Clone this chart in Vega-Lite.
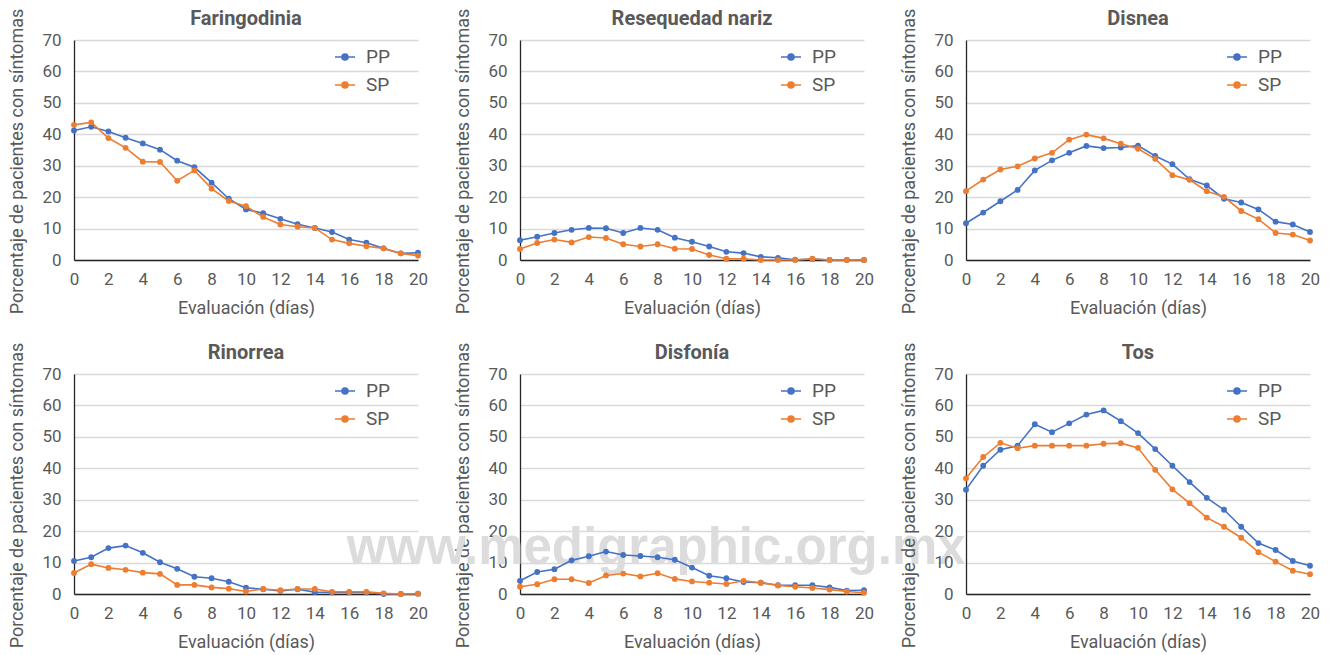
{
  "$schema": "https://vega.github.io/schema/vega-lite/v6.json",
  "background": "white",
  "padding": {"left": 8, "top": 8, "right": 5, "bottom": 3},
  "bounds": "flush",
  "columns": 3,
  "spacing": {"row": 114, "column": 102},
  "data": {
    "values": [
      {"sintoma": "Faringodinia", "dia": 0, "PP": 41.2, "SP": 43.0},
      {"sintoma": "Faringodinia", "dia": 1, "PP": 42.4, "SP": 43.8},
      {"sintoma": "Faringodinia", "dia": 2, "PP": 40.9, "SP": 38.8},
      {"sintoma": "Faringodinia", "dia": 3, "PP": 38.9, "SP": 35.7},
      {"sintoma": "Faringodinia", "dia": 4, "PP": 37.1, "SP": 31.3},
      {"sintoma": "Faringodinia", "dia": 5, "PP": 35.1, "SP": 31.2},
      {"sintoma": "Faringodinia", "dia": 6, "PP": 31.6, "SP": 25.2},
      {"sintoma": "Faringodinia", "dia": 7, "PP": 29.5, "SP": 28.5},
      {"sintoma": "Faringodinia", "dia": 8, "PP": 24.6, "SP": 22.7},
      {"sintoma": "Faringodinia", "dia": 9, "PP": 19.5, "SP": 18.8},
      {"sintoma": "Faringodinia", "dia": 10, "PP": 16.1, "SP": 17.1},
      {"sintoma": "Faringodinia", "dia": 11, "PP": 14.9, "SP": 13.7},
      {"sintoma": "Faringodinia", "dia": 12, "PP": 13.1, "SP": 11.3},
      {"sintoma": "Faringodinia", "dia": 13, "PP": 11.4, "SP": 10.6},
      {"sintoma": "Faringodinia", "dia": 14, "PP": 10.2, "SP": 10.2},
      {"sintoma": "Faringodinia", "dia": 15, "PP": 8.9, "SP": 6.5},
      {"sintoma": "Faringodinia", "dia": 16, "PP": 6.5, "SP": 5.3},
      {"sintoma": "Faringodinia", "dia": 17, "PP": 5.5, "SP": 4.4},
      {"sintoma": "Faringodinia", "dia": 18, "PP": 3.7, "SP": 3.7},
      {"sintoma": "Faringodinia", "dia": 19, "PP": 2.1, "SP": 2.1},
      {"sintoma": "Faringodinia", "dia": 20, "PP": 2.3, "SP": 1.4},
      {"sintoma": "Resequedad nariz", "dia": 0, "PP": 6.3, "SP": 3.5},
      {"sintoma": "Resequedad nariz", "dia": 1, "PP": 7.4, "SP": 5.4},
      {"sintoma": "Resequedad nariz", "dia": 2, "PP": 8.6, "SP": 6.5},
      {"sintoma": "Resequedad nariz", "dia": 3, "PP": 9.6, "SP": 5.6},
      {"sintoma": "Resequedad nariz", "dia": 4, "PP": 10.2, "SP": 7.3},
      {"sintoma": "Resequedad nariz", "dia": 5, "PP": 10.1, "SP": 7.0},
      {"sintoma": "Resequedad nariz", "dia": 6, "PP": 8.6, "SP": 5.0},
      {"sintoma": "Resequedad nariz", "dia": 7, "PP": 10.2, "SP": 4.3},
      {"sintoma": "Resequedad nariz", "dia": 8, "PP": 9.6, "SP": 5.0},
      {"sintoma": "Resequedad nariz", "dia": 9, "PP": 7.1, "SP": 3.6},
      {"sintoma": "Resequedad nariz", "dia": 10, "PP": 5.8, "SP": 3.5},
      {"sintoma": "Resequedad nariz", "dia": 11, "PP": 4.3, "SP": 1.6},
      {"sintoma": "Resequedad nariz", "dia": 12, "PP": 2.6, "SP": 0.4},
      {"sintoma": "Resequedad nariz", "dia": 13, "PP": 2.2, "SP": 0.4},
      {"sintoma": "Resequedad nariz", "dia": 14, "PP": 1.0, "SP": 0.0},
      {"sintoma": "Resequedad nariz", "dia": 15, "PP": 0.7, "SP": 0.0},
      {"sintoma": "Resequedad nariz", "dia": 16, "PP": 0.1, "SP": 0.0},
      {"sintoma": "Resequedad nariz", "dia": 17, "PP": 0.3, "SP": 0.4},
      {"sintoma": "Resequedad nariz", "dia": 18, "PP": 0.0, "SP": 0.0},
      {"sintoma": "Resequedad nariz", "dia": 19, "PP": 0.0, "SP": 0.0},
      {"sintoma": "Resequedad nariz", "dia": 20, "PP": 0.0, "SP": 0.0},
      {"sintoma": "Disnea", "dia": 0, "PP": 11.7, "SP": 21.9},
      {"sintoma": "Disnea", "dia": 1, "PP": 15.1, "SP": 25.6},
      {"sintoma": "Disnea", "dia": 2, "PP": 18.7, "SP": 28.8},
      {"sintoma": "Disnea", "dia": 3, "PP": 22.3, "SP": 29.8},
      {"sintoma": "Disnea", "dia": 4, "PP": 28.5, "SP": 32.3},
      {"sintoma": "Disnea", "dia": 5, "PP": 31.7, "SP": 34.1},
      {"sintoma": "Disnea", "dia": 6, "PP": 34.1, "SP": 38.3},
      {"sintoma": "Disnea", "dia": 7, "PP": 36.3, "SP": 39.9},
      {"sintoma": "Disnea", "dia": 8, "PP": 35.6, "SP": 38.7},
      {"sintoma": "Disnea", "dia": 9, "PP": 35.8, "SP": 37.0},
      {"sintoma": "Disnea", "dia": 10, "PP": 36.4, "SP": 35.4},
      {"sintoma": "Disnea", "dia": 11, "PP": 33.1, "SP": 32.2},
      {"sintoma": "Disnea", "dia": 12, "PP": 30.5, "SP": 27.0},
      {"sintoma": "Disnea", "dia": 13, "PP": 25.7, "SP": 25.5},
      {"sintoma": "Disnea", "dia": 14, "PP": 23.7, "SP": 21.9},
      {"sintoma": "Disnea", "dia": 15, "PP": 19.5, "SP": 20.1},
      {"sintoma": "Disnea", "dia": 16, "PP": 18.3, "SP": 15.6},
      {"sintoma": "Disnea", "dia": 17, "PP": 16.1, "SP": 13.0},
      {"sintoma": "Disnea", "dia": 18, "PP": 12.2, "SP": 8.6},
      {"sintoma": "Disnea", "dia": 19, "PP": 11.3, "SP": 8.1},
      {"sintoma": "Disnea", "dia": 20, "PP": 8.9, "SP": 6.2},
      {"sintoma": "Rinorrea", "dia": 0, "PP": 10.5, "SP": 6.7},
      {"sintoma": "Rinorrea", "dia": 1, "PP": 11.7, "SP": 9.5},
      {"sintoma": "Rinorrea", "dia": 2, "PP": 14.6, "SP": 8.3},
      {"sintoma": "Rinorrea", "dia": 3, "PP": 15.4, "SP": 7.7},
      {"sintoma": "Rinorrea", "dia": 4, "PP": 13.1, "SP": 6.8},
      {"sintoma": "Rinorrea", "dia": 5, "PP": 10.1, "SP": 6.4},
      {"sintoma": "Rinorrea", "dia": 6, "PP": 8.0, "SP": 2.9},
      {"sintoma": "Rinorrea", "dia": 7, "PP": 5.5, "SP": 2.9},
      {"sintoma": "Rinorrea", "dia": 8, "PP": 5.0, "SP": 2.1},
      {"sintoma": "Rinorrea", "dia": 9, "PP": 3.9, "SP": 1.7},
      {"sintoma": "Rinorrea", "dia": 10, "PP": 2.0, "SP": 0.8},
      {"sintoma": "Rinorrea", "dia": 11, "PP": 1.5, "SP": 1.6},
      {"sintoma": "Rinorrea", "dia": 12, "PP": 1.0, "SP": 1.2},
      {"sintoma": "Rinorrea", "dia": 13, "PP": 1.5, "SP": 1.6},
      {"sintoma": "Rinorrea", "dia": 14, "PP": 0.6, "SP": 1.6},
      {"sintoma": "Rinorrea", "dia": 15, "PP": 0.5, "SP": 0.7},
      {"sintoma": "Rinorrea", "dia": 16, "PP": 0.5, "SP": 0.7},
      {"sintoma": "Rinorrea", "dia": 17, "PP": 0.5, "SP": 0.7},
      {"sintoma": "Rinorrea", "dia": 18, "PP": 0.0, "SP": 0.2},
      {"sintoma": "Rinorrea", "dia": 19, "PP": 0.0, "SP": 0.0},
      {"sintoma": "Rinorrea", "dia": 20, "PP": 0.1, "SP": 0.1},
      {"sintoma": "Disfonía", "dia": 0, "PP": 4.2, "SP": 2.3},
      {"sintoma": "Disfonía", "dia": 1, "PP": 7.0, "SP": 3.1},
      {"sintoma": "Disfonía", "dia": 2, "PP": 7.9, "SP": 4.7},
      {"sintoma": "Disfonía", "dia": 3, "PP": 10.7, "SP": 4.7},
      {"sintoma": "Disfonía", "dia": 4, "PP": 12.0, "SP": 3.5},
      {"sintoma": "Disfonía", "dia": 5, "PP": 13.5, "SP": 5.9},
      {"sintoma": "Disfonía", "dia": 6, "PP": 12.4, "SP": 6.5},
      {"sintoma": "Disfonía", "dia": 7, "PP": 12.1, "SP": 5.6},
      {"sintoma": "Disfonía", "dia": 8, "PP": 11.7, "SP": 6.6},
      {"sintoma": "Disfonía", "dia": 9, "PP": 10.9, "SP": 4.8},
      {"sintoma": "Disfonía", "dia": 10, "PP": 8.4, "SP": 4.0},
      {"sintoma": "Disfonía", "dia": 11, "PP": 5.8, "SP": 3.6},
      {"sintoma": "Disfonía", "dia": 12, "PP": 5.0, "SP": 3.2},
      {"sintoma": "Disfonía", "dia": 13, "PP": 3.8, "SP": 4.2},
      {"sintoma": "Disfonía", "dia": 14, "PP": 3.6, "SP": 3.6},
      {"sintoma": "Disfonía", "dia": 15, "PP": 2.8, "SP": 2.7},
      {"sintoma": "Disfonía", "dia": 16, "PP": 2.8, "SP": 2.3},
      {"sintoma": "Disfonía", "dia": 17, "PP": 2.8, "SP": 1.9},
      {"sintoma": "Disfonía", "dia": 18, "PP": 2.1, "SP": 1.4},
      {"sintoma": "Disfonía", "dia": 19, "PP": 1.1, "SP": 0.8},
      {"sintoma": "Disfonía", "dia": 20, "PP": 1.2, "SP": 0.4},
      {"sintoma": "Tos", "dia": 0, "PP": 33.2, "SP": 36.8},
      {"sintoma": "Tos", "dia": 1, "PP": 40.8, "SP": 43.6},
      {"sintoma": "Tos", "dia": 2, "PP": 45.9, "SP": 48.1},
      {"sintoma": "Tos", "dia": 3, "PP": 47.2, "SP": 46.4},
      {"sintoma": "Tos", "dia": 4, "PP": 54.0, "SP": 47.2},
      {"sintoma": "Tos", "dia": 5, "PP": 51.5, "SP": 47.2},
      {"sintoma": "Tos", "dia": 6, "PP": 54.3, "SP": 47.2},
      {"sintoma": "Tos", "dia": 7, "PP": 57.1, "SP": 47.2},
      {"sintoma": "Tos", "dia": 8, "PP": 58.4, "SP": 47.8},
      {"sintoma": "Tos", "dia": 9, "PP": 55.0, "SP": 48.0},
      {"sintoma": "Tos", "dia": 10, "PP": 51.2, "SP": 46.5},
      {"sintoma": "Tos", "dia": 11, "PP": 46.1, "SP": 39.5},
      {"sintoma": "Tos", "dia": 12, "PP": 40.8, "SP": 33.3},
      {"sintoma": "Tos", "dia": 13, "PP": 35.6, "SP": 28.9},
      {"sintoma": "Tos", "dia": 14, "PP": 30.6, "SP": 24.3},
      {"sintoma": "Tos", "dia": 15, "PP": 26.8, "SP": 21.4},
      {"sintoma": "Tos", "dia": 16, "PP": 21.4, "SP": 17.9},
      {"sintoma": "Tos", "dia": 17, "PP": 16.2, "SP": 13.3},
      {"sintoma": "Tos", "dia": 18, "PP": 14.0, "SP": 10.3},
      {"sintoma": "Tos", "dia": 19, "PP": 10.5, "SP": 7.4},
      {"sintoma": "Tos", "dia": 20, "PP": 9.0, "SP": 6.3}
    ]
  },
  "resolve": {"legend": {"color": "independent"}},
  "concat": [
    {
      "title": "Faringodinia",
      "width": 344, "height": 220,
      "transform": [{"filter": "datum.sintoma === 'Faringodinia'"}, {"fold": ["PP", "SP"], "as": ["grupo", "pct"]}],
      "mark": {"type": "line", "point": {"filled": true, "size": 34}},
      "encoding": {
        "x": {"field": "dia", "type": "quantitative", "title": "Evaluación (días)", "scale": {"domain": [0, 20], "nice": false}, "axis": {"values": [0, 2, 4, 6, 8, 10, 12, 14, 16, 18, 20]}},
        "y": {"field": "pct", "type": "quantitative", "title": "Porcentaje de pacientes con síntomas", "scale": {"domain": [0, 70]}, "axis": {"values": [0, 10, 20, 30, 40, 50, 60, 70]}},
        "color": {"field": "grupo", "type": "nominal", "scale": {"domain": ["PP", "SP"], "range": ["#4472C4", "#ED7D31"]}, "legend": {"title": null}}
      }
    },
    {
      "title": "Resequedad nariz",
      "width": 344, "height": 220,
      "transform": [{"filter": "datum.sintoma === 'Resequedad nariz'"}, {"fold": ["PP", "SP"], "as": ["grupo", "pct"]}],
      "mark": {"type": "line", "point": {"filled": true, "size": 34}},
      "encoding": {
        "x": {"field": "dia", "type": "quantitative", "title": "Evaluación (días)", "scale": {"domain": [0, 20], "nice": false}, "axis": {"values": [0, 2, 4, 6, 8, 10, 12, 14, 16, 18, 20]}},
        "y": {"field": "pct", "type": "quantitative", "title": "Porcentaje de pacientes con síntomas", "scale": {"domain": [0, 70]}, "axis": {"values": [0, 10, 20, 30, 40, 50, 60, 70]}},
        "color": {"field": "grupo", "type": "nominal", "scale": {"domain": ["PP", "SP"], "range": ["#4472C4", "#ED7D31"]}, "legend": {"title": null}}
      }
    },
    {
      "title": "Disnea",
      "width": 344, "height": 220,
      "transform": [{"filter": "datum.sintoma === 'Disnea'"}, {"fold": ["PP", "SP"], "as": ["grupo", "pct"]}],
      "mark": {"type": "line", "point": {"filled": true, "size": 34}},
      "encoding": {
        "x": {"field": "dia", "type": "quantitative", "title": "Evaluación (días)", "scale": {"domain": [0, 20], "nice": false}, "axis": {"values": [0, 2, 4, 6, 8, 10, 12, 14, 16, 18, 20]}},
        "y": {"field": "pct", "type": "quantitative", "title": "Porcentaje de pacientes con síntomas", "scale": {"domain": [0, 70]}, "axis": {"values": [0, 10, 20, 30, 40, 50, 60, 70]}},
        "color": {"field": "grupo", "type": "nominal", "scale": {"domain": ["PP", "SP"], "range": ["#4472C4", "#ED7D31"]}, "legend": {"title": null}}
      }
    },
    {
      "title": "Rinorrea",
      "width": 344, "height": 220,
      "transform": [{"filter": "datum.sintoma === 'Rinorrea'"}, {"fold": ["PP", "SP"], "as": ["grupo", "pct"]}],
      "mark": {"type": "line", "point": {"filled": true, "size": 34}},
      "encoding": {
        "x": {"field": "dia", "type": "quantitative", "title": "Evaluación (días)", "scale": {"domain": [0, 20], "nice": false}, "axis": {"values": [0, 2, 4, 6, 8, 10, 12, 14, 16, 18, 20]}},
        "y": {"field": "pct", "type": "quantitative", "title": "Porcentaje de pacientes con síntomas", "scale": {"domain": [0, 70]}, "axis": {"values": [0, 10, 20, 30, 40, 50, 60, 70]}},
        "color": {"field": "grupo", "type": "nominal", "scale": {"domain": ["PP", "SP"], "range": ["#4472C4", "#ED7D31"]}, "legend": {"title": null}}
      }
    },
    {
      "title": "Disfonía",
      "width": 344, "height": 220,
      "layer": [
        {
          "data": {"values": [{"marca": "www.medigraphic.org.mx"}]},
          "mark": {"type": "text", "font": "Liberation Sans", "fontWeight": "bold", "fontSize": 51, "color": "#dcdcdc", "align": "center", "baseline": "alphabetic"},
          "encoding": {
            "x": {"datum": 7.92, "type": "quantitative", "title": "Evaluación (días)", "scale": {"domain": [0, 20], "nice": false}, "axis": {"values": [0, 2, 4, 6, 8, 10, 12, 14, 16, 18, 20]}},
            "y": {"datum": 9.5, "type": "quantitative", "title": "Porcentaje de pacientes con síntomas", "scale": {"domain": [0, 70]}, "axis": {"values": [0, 10, 20, 30, 40, 50, 60, 70]}},
            "text": {"field": "marca"}
          }
        },
        {
          "transform": [{"filter": "datum.sintoma === 'Disfonía'"}, {"fold": ["PP", "SP"], "as": ["grupo", "pct"]}],
          "mark": {"type": "line", "point": {"filled": true, "size": 34}},
          "encoding": {
            "x": {"field": "dia", "type": "quantitative", "title": "Evaluación (días)", "scale": {"domain": [0, 20], "nice": false}, "axis": {"values": [0, 2, 4, 6, 8, 10, 12, 14, 16, 18, 20]}},
            "y": {"field": "pct", "type": "quantitative", "title": "Porcentaje de pacientes con síntomas", "scale": {"domain": [0, 70]}, "axis": {"values": [0, 10, 20, 30, 40, 50, 60, 70]}},
            "color": {"field": "grupo", "type": "nominal", "scale": {"domain": ["PP", "SP"], "range": ["#4472C4", "#ED7D31"]}, "legend": {"title": null}}
          }
        }
      ]
    },
    {
      "title": "Tos",
      "width": 344, "height": 220,
      "transform": [{"filter": "datum.sintoma === 'Tos'"}, {"fold": ["PP", "SP"], "as": ["grupo", "pct"]}],
      "mark": {"type": "line", "point": {"filled": true, "size": 34}},
      "encoding": {
        "x": {"field": "dia", "type": "quantitative", "title": "Evaluación (días)", "scale": {"domain": [0, 20], "nice": false}, "axis": {"values": [0, 2, 4, 6, 8, 10, 12, 14, 16, 18, 20]}},
        "y": {"field": "pct", "type": "quantitative", "title": "Porcentaje de pacientes con síntomas", "scale": {"domain": [0, 70]}, "axis": {"values": [0, 10, 20, 30, 40, 50, 60, 70]}},
        "color": {"field": "grupo", "type": "nominal", "scale": {"domain": ["PP", "SP"], "range": ["#4472C4", "#ED7D31"]}, "legend": {"title": null}}
      }
    }
  ],
  "config": {
    "font": "Roboto",
    "view": {"stroke": null},
    "line": {"strokeWidth": 1.6},
    "axis": {
      "labelFont": "Roboto", "labelFontSize": 17, "labelColor": "#595959",
      "titleFont": "Roboto", "titleFontSize": 18, "titleFontWeight": "normal", "titleColor": "#595959",
      "ticks": false, "domainColor": "#262626", "domainWidth": 1.3,
      "gridColor": "#d9d9d9", "gridWidth": 1.3,
      "labelFlush": false, "labelOverlap": false, "labelBound": false
    },
    "axisX": {"grid": false, "labelAngle": 0, "labelPadding": 11, "titlePadding": 12},
    "axisY": {"grid": true, "labelPadding": 13, "titlePadding": 15, "titleY": 121},
    "legend": {
      "orient": "none", "legendX": 260, "legendY": 6, "padding": 0,
      "labelFont": "Roboto", "labelFontSize": 19, "labelColor": "#595959", "labelOffset": 10,
      "symbolType": "M-1,0L1,0M0.3,0A0.3,0.3,0,1,1,-0.3,0A0.3,0.3,0,1,1,0.3,0M0.2,0A0.2,0.2,0,1,1,-0.2,0A0.2,0.2,0,1,1,0.2,0M0.1,0A0.1,0.1,0,1,1,-0.1,0A0.1,0.1,0,1,1,0.1,0",
      "symbolSize": 400, "symbolStrokeWidth": 1.6, "rowPadding": 7
    },
    "title": {"font": "Roboto", "fontSize": 20, "fontWeight": "bold", "color": "#595959", "offset": -21, "frame": "group"}
  }
}
